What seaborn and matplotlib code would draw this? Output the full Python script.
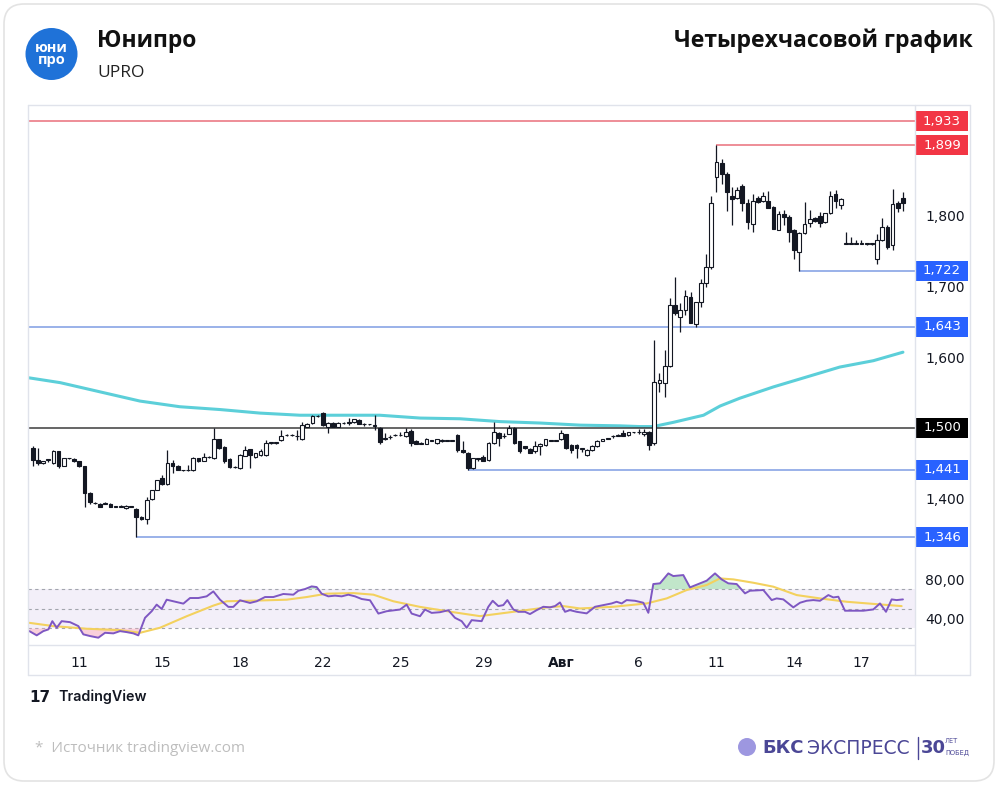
import matplotlib
matplotlib.use("Agg")
import matplotlib.pyplot as plt
import matplotlib.transforms as mtransforms
from matplotlib.patches import Rectangle, FancyBboxPatch, Circle
from matplotlib.lines import Line2D
import numpy as np
import pandas as pd
import seaborn as sns

# ---------------- data ----------------
opens = [1.472, 1.455, 1.450, 1.455, 1.450, 1.467, 1.447, 1.457, 1.456, 1.453,
         1.446, 1.408, 1.394, 1.393, 1.393, 1.393, 1.389, 1.389, 1.387, 1.389,
         1.386, 1.375, 1.372, 1.400, 1.413, 1.430, 1.421, 1.450, 1.447, 1.440,
         1.440, 1.440, 1.457, 1.454, 1.459, 1.457, 1.484, 1.473, 1.456, 1.445,
         1.443, 1.461, 1.470, 1.459, 1.462, 1.462, 1.479, 1.479, 1.483, 1.490,
         1.490, 1.489, 1.484, 1.502, 1.507, 1.517, 1.521, 1.502, 1.507, 1.502,
         1.507, 1.507, 1.508, 1.511, 1.505, 1.505, 1.503, 1.500, 1.485, 1.487,
         1.490, 1.490, 1.488, 1.496, 1.482, 1.478, 1.478, 1.482, 1.479, 1.483,
         1.482, 1.482, 1.490, 1.469, 1.465, 1.443, 1.457, 1.459, 1.455, 1.479,
         1.493, 1.488, 1.492, 1.500, 1.481, 1.474, 1.471, 1.468, 1.474, 1.476,
         1.482, 1.482, 1.484, 1.491, 1.476, 1.476, 1.471, 1.462, 1.469, 1.474,
         1.482, 1.485, 1.488, 1.489, 1.493, 1.490, 1.494, 1.494, 1.491, 1.494,
         1.479, 1.564, 1.563, 1.587, 1.673, 1.657, 1.666, 1.685, 1.647, 1.678,
         1.704, 1.727, 1.854, 1.874, 1.859, 1.828, 1.824, 1.842, 1.817, 1.788,
         1.824, 1.820, 1.821, 1.812, 1.780, 1.802, 1.798, 1.779, 1.749, 1.775,
         1.789, 1.797, 1.799, 1.791, 1.803, 1.831, 1.815, 1.760, 1.760, 1.760,
         1.760, 1.760, 1.760, 1.739, 1.765, 1.784, 1.758, 1.817, 1.824]
highs = [1.474, 1.472, 1.454, 1.456, 1.469, 1.468, 1.458, 1.458, 1.457, 1.454,
         1.447, 1.410, 1.395, 1.394, 1.395, 1.394, 1.390, 1.391, 1.391, 1.390,
         1.387, 1.376, 1.403, 1.413, 1.426, 1.433, 1.469, 1.455, 1.448, 1.441,
         1.448, 1.459, 1.458, 1.464, 1.460, 1.500, 1.485, 1.474, 1.457, 1.446,
         1.463, 1.474, 1.471, 1.465, 1.470, 1.483, 1.480, 1.480, 1.497, 1.491,
         1.491, 1.497, 1.509, 1.507, 1.518, 1.518, 1.522, 1.508, 1.508, 1.508,
         1.508, 1.514, 1.513, 1.512, 1.507, 1.506, 1.518, 1.501, 1.493, 1.490,
         1.491, 1.495, 1.500, 1.498, 1.483, 1.480, 1.486, 1.483, 1.485, 1.484,
         1.483, 1.483, 1.492, 1.481, 1.466, 1.458, 1.458, 1.462, 1.480, 1.509,
         1.495, 1.493, 1.504, 1.501, 1.482, 1.475, 1.472, 1.481, 1.479, 1.485,
         1.483, 1.483, 1.497, 1.492, 1.477, 1.478, 1.472, 1.470, 1.476, 1.483,
         1.485, 1.486, 1.490, 1.492, 1.497, 1.495, 1.495, 1.498, 1.498, 1.496,
         1.624, 1.577, 1.610, 1.683, 1.713, 1.676, 1.695, 1.692, 1.678, 1.711,
         1.746, 1.828, 1.899, 1.880, 1.861, 1.840, 1.840, 1.844, 1.823, 1.831,
         1.828, 1.833, 1.835, 1.813, 1.807, 1.808, 1.800, 1.781, 1.776, 1.819,
         1.808, 1.798, 1.805, 1.804, 1.835, 1.836, 1.824, 1.777, 1.770, 1.765,
         1.765, 1.761, 1.761, 1.774, 1.797, 1.786, 1.838, 1.821, 1.833]
lows = [1.446, 1.448, 1.449, 1.452, 1.449, 1.443, 1.446, 1.456, 1.452, 1.445,
        1.389, 1.393, 1.393, 1.388, 1.392, 1.388, 1.388, 1.388, 1.386, 1.388,
        1.346, 1.370, 1.365, 1.399, 1.412, 1.420, 1.420, 1.436, 1.440, 1.439,
        1.439, 1.439, 1.452, 1.453, 1.458, 1.456, 1.471, 1.451, 1.444, 1.444,
        1.442, 1.460, 1.443, 1.458, 1.461, 1.461, 1.478, 1.478, 1.482, 1.489,
        1.489, 1.483, 1.483, 1.501, 1.506, 1.516, 1.503, 1.493, 1.502, 1.501,
        1.506, 1.504, 1.507, 1.505, 1.503, 1.504, 1.497, 1.478, 1.483, 1.485,
        1.489, 1.488, 1.487, 1.474, 1.477, 1.477, 1.477, 1.481, 1.478, 1.480,
        1.481, 1.481, 1.466, 1.465, 1.441, 1.442, 1.454, 1.453, 1.454, 1.478,
        1.474, 1.486, 1.491, 1.477, 1.465, 1.471, 1.464, 1.464, 1.462, 1.475,
        1.481, 1.481, 1.483, 1.471, 1.464, 1.457, 1.466, 1.460, 1.468, 1.473,
        1.481, 1.484, 1.486, 1.488, 1.488, 1.489, 1.493, 1.491, 1.489, 1.469,
        1.476, 1.551, 1.544, 1.586, 1.659, 1.636, 1.659, 1.649, 1.643, 1.671,
        1.699, 1.725, 1.833, 1.845, 1.807, 1.786, 1.823, 1.807, 1.781, 1.777,
        1.818, 1.819, 1.810, 1.781, 1.779, 1.786, 1.763, 1.739, 1.722, 1.774,
        1.784, 1.791, 1.784, 1.790, 1.802, 1.810, 1.809, 1.760, 1.760, 1.760,
        1.760, 1.759, 1.759, 1.732, 1.764, 1.753, 1.751, 1.805, 1.807]
closes = [1.455, 1.451, 1.453, 1.455, 1.468, 1.447, 1.457, 1.457, 1.453, 1.446,
          1.408, 1.395, 1.394, 1.389, 1.393, 1.389, 1.389, 1.389, 1.390, 1.389,
          1.374, 1.371, 1.399, 1.413, 1.426, 1.421, 1.450, 1.446, 1.441, 1.440,
          1.441, 1.457, 1.453, 1.459, 1.459, 1.484, 1.472, 1.453, 1.445, 1.445,
          1.462, 1.469, 1.462, 1.464, 1.467, 1.479, 1.479, 1.479, 1.488, 1.490,
          1.490, 1.488, 1.504, 1.506, 1.517, 1.517, 1.504, 1.507, 1.502, 1.507,
          1.507, 1.509, 1.512, 1.506, 1.505, 1.505, 1.503, 1.480, 1.486, 1.487,
          1.490, 1.490, 1.495, 1.479, 1.478, 1.479, 1.485, 1.482, 1.484, 1.481,
          1.482, 1.482, 1.469, 1.466, 1.443, 1.457, 1.456, 1.454, 1.479, 1.495,
          1.486, 1.488, 1.500, 1.479, 1.467, 1.472, 1.465, 1.475, 1.478, 1.484,
          1.482, 1.482, 1.493, 1.472, 1.469, 1.472, 1.471, 1.469, 1.474, 1.482,
          1.484, 1.485, 1.488, 1.490, 1.489, 1.495, 1.494, 1.494, 1.494, 1.476,
          1.565, 1.568, 1.587, 1.673, 1.662, 1.667, 1.687, 1.648, 1.678, 1.704,
          1.727, 1.817, 1.875, 1.859, 1.833, 1.823, 1.836, 1.817, 1.791, 1.820,
          1.819, 1.827, 1.811, 1.781, 1.802, 1.798, 1.777, 1.751, 1.775, 1.788,
          1.795, 1.792, 1.789, 1.803, 1.828, 1.820, 1.823, 1.760, 1.760, 1.760,
          1.760, 1.760, 1.760, 1.765, 1.784, 1.756, 1.816, 1.811, 1.818]

# moving average (read points: candle position, value)
ma_x = [-0.9, 5.3, 13.0, 20.7, 28.4, 36.2, 43.9, 51.6, 59.3, 67.0, 74.8, 82.5, 90.2,
        97.9, 105.7, 113.4, 117.2, 119.8, 123.7, 129.5, 132.7, 136.5, 143.0, 149.4,
        155.8, 162.3, 168.0]
ma_v = [1.571, 1.564, 1.551, 1.538, 1.530, 1.526, 1.521, 1.518, 1.518, 1.518, 1.514,
        1.513, 1.509, 1.507, 1.504, 1.503, 1.502, 1.502, 1.508, 1.518, 1.531, 1.542,
        1.558, 1.572, 1.586, 1.595, 1.607]

# RSI trace
rsi_x = [-0.65, 0.77, 2.05, 3.02, 3.79, 4.63, 5.59, 7.2, 8.81, 9.77,
         11.06, 12.67, 13.96, 15.57, 16.85, 18.14, 19.43, 20.39, 21.68, 22.97,
         23.93, 24.9, 25.86, 27.15, 29.08, 30.37, 31.98, 33.58, 34.87, 36.16,
         37.77, 38.73, 40.02, 41.95, 43.24, 44.85, 46.46, 48.38, 50.32, 51.28,
         52.57, 53.85, 54.82, 55.78, 57.07, 58.36, 59.65, 60.93, 62.22, 63.51,
         65.12, 66.73, 68.33, 69.94, 70.91, 72.19, 73.16, 74.77, 75.73, 77.02,
         78.63, 80.24, 81.52, 82.81, 83.78, 84.74, 86.67,
         87.96, 88.8, 89.89, 90.85, 91.63, 92.78, 93.75, 95.04, 96.0, 97.29,
         98.58, 99.86, 100.83, 101.79, 102.76, 103.72, 105.01, 106.94, 108.55, 110.16,
         111.77, 112.73, 113.7, 114.66, 116.27, 117.88, 118.85, 119.81, 121.1, 122.71,
         123.67, 125.6, 126.89, 128.82, 130.11, 131.72, 133.0, 134.29, 135.9, 137.51,
         138.47, 141.05, 142.66, 143.62, 144.91, 146.84, 148.13, 149.41, 150.7, 151.99,
         153.6, 154.56, 155.53, 156.81, 158.42, 160.35, 162.28, 163.57, 164.73, 165.82,
         166.79, 168.0]
rsi_v = [27.3, 23, 27.3, 29, 37.4, 30.7, 37.4, 36.4, 32.4, 24,
         22.3, 20.6, 25.6, 25, 27.3, 26.3, 25, 23, 40.8, 47.5,
         54.2, 49.8, 59.2, 57.6, 55.2, 60.9, 60.9, 62.6, 67.6, 59.2,
         51.9, 51.9, 58.6, 55.9, 57.6, 61.9, 61.9, 65, 64.3, 68.3,
         70, 72.7, 72, 65.3, 62.6, 63.3, 62.6, 64.3, 62.6, 59.9,
         58.6, 45.1, 47.5, 48.5, 49.2, 54.2, 45.1, 42.4, 49.2, 45.8,
         46.5, 48.5, 40.8, 37.4, 30.7, 38.4, 37.4,
         52, 58.1, 52.7, 53.7, 58.8, 49.3, 46.9, 46.9, 44.6, 48.6,
         52, 51.4, 52.7, 56.4, 46.9, 48.6, 46.9, 45.3, 52, 53.7,
         55.4, 57.1, 55.4, 58.8, 58.1, 56.1, 45.9, 75.1, 75.8, 85.9,
         83.2, 84.2, 71.7, 75.8, 78.5, 85.9, 79.8, 75.8, 75.1, 65.6,
         68.3, 69, 58.8, 60.5, 59.5, 51.4, 56.1, 58.1, 58.8, 58.1,
         63.9, 61.5, 62.2, 48, 48, 48, 49.3, 55.4, 46.9, 59.5,
         58.8, 59.5]
rsi_ma_x = [-0.65, 3.98, 10.42, 16.85, 20.71, 24.57, 29.72, 34.87, 37.45, 42.59,
            49.03, 52.89, 56.75, 61.9, 65.76, 69.62, 74.77, 81.2, 86.35, 92.78,
            99.22, 102.44, 105.66, 112.09, 118.53, 122.39, 126.25, 130.11, 132.68, 135.26,
            139.12, 142.98, 147.48, 151.99, 157.14, 163.57, 167.75]
rsi_ma_v = [35.7, 32.4, 29.7, 28.3, 25.6, 30.7, 42.4, 53.2, 57.6, 58.2,
            59.2, 61.9, 65.3, 65.9, 64.3, 57.6, 51.9, 46.5, 42.5, 46.9,
            51.4, 52.7, 50.3, 52, 55.4, 60.5, 69, 74.1, 80.8, 79.8,
            76.4, 72.4, 63.9, 60.5, 57.1, 54.4, 52.7]

# key levels
level_vals = [1.933, 1.899, 1.722, 1.643, 1.500, 1.441, 1.346]
level_start = [None, 132, 148, None, None, 84, 20]
level_kind = ['red', 'red', 'blue', 'blue', 'black', 'blue', 'blue']

# axis ticks (1,500 and 1,900 sit under the level boxes, so they are not shown)
date_ticks = [9, 25, 40, 56, 71, 87, 102, 117, 132, 147, 160]
date_labels = ['11', '15', '18', '22', '25', '29', 'Авг', '6', '11', '14', '17']
price_ticks = [1.4, 1.6, 1.7, 1.8]
price_labels = ['1,400', '1,600', '1,700', '1,800']
rsi_ticks = [40, 80]
rsi_labels = ['40,00', '80,00']

assert len(opens) == len(highs) == len(lows) == len(closes)
assert len(rsi_x) == len(rsi_v) and len(rsi_ma_x) == len(rsi_ma_v) and len(ma_x) == len(ma_v)

# ---------------- figure ----------------
sns.set_theme(style="white")
plt.rcParams['font.family'] = ['DejaVu Sans']
plt.rcParams['axes.facecolor'] = 'none'

W, H = 1000, 785
fig = plt.figure(figsize=(W / 100, H / 100), dpi=100)
fig.patch.set_facecolor('white')
ident = mtransforms.IdentityTransform()

def fbox(l, t, r, b):
    return [l / W, 1 - b / H, (r - l) / W, (b - t) / H]

def fpt(x, y):
    return x / W, 1 - y / H

# card
fig.add_artist(FancyBboxPatch((4, 4), 990, 777, boxstyle='round,pad=0,rounding_size=20',
                              transform=ident, facecolor='white', edgecolor='#e3e3e3',
                              linewidth=1.2, zorder=0))

ax = fig.add_axes(fbox(28, 105, 915, 560))
ax2 = fig.add_axes(fbox(28, 560, 915, 645))

xmin, xmax = -0.91, 170.33
INK = '#131722'

# candles
idx = np.arange(len(opens))
o = np.array(opens); c = np.array(closes); h = np.array(highs); l = np.array(lows)
up = c >= o
ax.vlines(idx, l, h, color=INK, lw=0.9, zorder=3)
body_bottom = np.minimum(o, c)
body_h = np.maximum(np.abs(c - o), 0.0006)
ax.bar(idx[up], body_h[up], bottom=body_bottom[up], width=0.72, color='white',
       edgecolor=INK, linewidth=0.8, zorder=4)
ax.bar(idx[~up], body_h[~up], bottom=body_bottom[~up], width=0.72, color=INK,
       edgecolor=INK, linewidth=0.8, zorder=4)

# moving average
sns.lineplot(x=ma_x, y=ma_v, ax=ax, color='#5ccfd9', linewidth=2.2, zorder=2)

# levels
line_col = {'red': '#ea6f7b', 'blue': '#7f9de3', 'black': '#3c3c3c'}
box_col = {'red': '#f23645', 'blue': '#2962ff', 'black': '#000000'}
trans = mtransforms.blended_transform_factory(ax.transAxes, ax.transData)
ylo, yhi = 1.3136, 1.956
box_h = 20 / (455 / (yhi - ylo))
for v, s, k in zip(level_vals, level_start, level_kind):
    start = xmin if s is None else s
    ax.hlines(v, start, xmax, color=line_col[k], lw=1.1, zorder=2.5)
    ax.add_patch(Rectangle((1 + 1 / 887, v - box_h / 2), 52 / 887, box_h, transform=trans,
                           facecolor=box_col[k], edgecolor='none', clip_on=False, zorder=10))
    ax.text(1 + 27 / 887, v, f"{v:.3f}".replace('.', ','), transform=trans, ha='center',
            va='center', color='white', fontsize=9.5, zorder=11, clip_on=False)

ax.set_xlim(xmin, xmax)
ax.set_ylim(ylo, yhi)
ax.set_xticks([])
ax.yaxis.tick_right()
ax.set_yticks(price_ticks)
ax.set_yticklabels(price_labels)
ax.tick_params(axis='y', length=0, pad=7.5, labelsize=10, labelcolor=INK)
ax.set_xlabel(''); ax.set_ylabel('')

# RSI panel
ax2.axhspan(30, 70, facecolor='#7e57c2', alpha=0.09, lw=0, zorder=0)
for v in (70, 50, 30):
    ax2.axhline(v, color='#a3a6ae', lw=0.8, ls=(0, (3, 3)), zorder=1)
rx = np.array(rsi_x); rv = np.array(rsi_v)
ax2.fill_between(rx, rv, 70, where=rv > 70, interpolate=True, color='#8fd3a0', alpha=0.55, lw=0, zorder=1.5)
ax2.fill_between(rx, rv, 30, where=rv < 30, interpolate=True, color='#f5a9bf', alpha=0.55, lw=0, zorder=1.5)
sns.lineplot(x=rsi_ma_x, y=rsi_ma_v, ax=ax2, color='#f3d15e', linewidth=1.5, zorder=2)
sns.lineplot(x=rsi_x, y=rsi_v, ax=ax2, color='#7e57c2', linewidth=1.4, zorder=3)
ax2.set_xlim(xmin, xmax)
ax2.set_ylim(13.2, 99.5)
ax2.yaxis.tick_right()
ax2.set_yticks(rsi_ticks)
ax2.set_yticklabels(rsi_labels)
ax2.tick_params(axis='y', length=0, pad=7.5, labelsize=10, labelcolor=INK)
ax2.set_xticks(date_ticks)
ax2.set_xticklabels(date_labels)
ax2.tick_params(axis='x', length=0, pad=8, labelsize=10, labelcolor=INK)
for t in ax2.get_xticklabels():
    if t.get_text() == 'Авг':
        t.set_fontweight('bold')
ax2.set_xlabel(''); ax2.set_ylabel('')

for a in (ax, ax2):
    for sp in a.spines.values():
        sp.set_visible(False)

# chart frame
FR = '#e0e3eb'
def fline(x1, y1, x2, y2):
    fig.add_artist(Line2D([x1 / W, x2 / W], [1 - y1 / H, 1 - y2 / H], transform=fig.transFigure,
                          color=FR, lw=1, zorder=1))
fline(28, 105, 970, 105)
fline(28, 675, 970, 675)
fline(28, 105, 28, 675)
fline(970, 105, 970, 675)
fline(915, 105, 915, 675)
fline(28, 645, 915, 645)

# header
fig.add_artist(Circle((51.5, H - 54), 26, transform=ident, facecolor='#1f72d8', edgecolor='none'))
fig.text(*fpt(51.5, 54), "юни\nпро", ha='center', va='center', color='white',
         fontsize=10.5, fontweight='bold', family='Open Sans', linespacing=0.8)
fig.text(*fpt(97, 41), "Юнипро", ha='left', va='center', fontsize=16.5, fontweight='bold',
         family='Open Sans', color='#111111')
fig.text(*fpt(97, 73), "UPRO", ha='left', va='center', fontsize=12.5,
         family='Open Sans', color='#222222')
fig.text(*fpt(973, 41), "Четырехчасовой график", ha='right', va='center', fontsize=16.6,
         fontweight='bold', family='Open Sans', color='#111111')

# footer
fig.text(*fpt(29, 697), "17", ha='left', va='center', fontsize=11, fontweight='heavy',
         family='DejaVu Sans', color='#131722')
fig.text(*fpt(58, 697), "TradingView", ha='left', va='center', fontsize=10.3,
         fontweight='semibold', family='Inter', color='#131722')
fig.text(*fpt(35, 748), "*  Источник tradingview.com", ha='left', va='center', fontsize=11,
         family='Open Sans', color='#bdbdbd')
BKS = '#4b4796'
fig.add_artist(Circle((747, H - 747), 9, transform=ident, facecolor='#9d97e0', edgecolor='none'))
fig.text(*fpt(762, 748), "БКС", ha='left', va='center', fontsize=13, fontweight='bold',
         family='DejaVu Sans', color=BKS)
fig.text(*fpt(807, 748), "ЭКСПРЕСС", ha='left', va='center', fontsize=13.5,
         family='DejaVu Sans', color=BKS)
fig.add_artist(Line2D([918 / W, 918 / W], [1 - 737 / H, 1 - 759 / H], transform=fig.transFigure,
                      color=BKS, lw=1))
fig.text(*fpt(921, 748), "30", ha='left', va='center', fontsize=13, fontweight='bold',
         family='DejaVu Sans', color=BKS)
fig.text(*fpt(945, 741), "ЛЕТ", ha='left', va='center', fontsize=4.8, family='DejaVu Sans',
         color=BKS)
fig.text(*fpt(945, 753), "ПОБЕД", ha='left', va='center', fontsize=4.8, family='DejaVu Sans',
         color=BKS)

fig.savefig('out.png', dpi=100, facecolor='white')
